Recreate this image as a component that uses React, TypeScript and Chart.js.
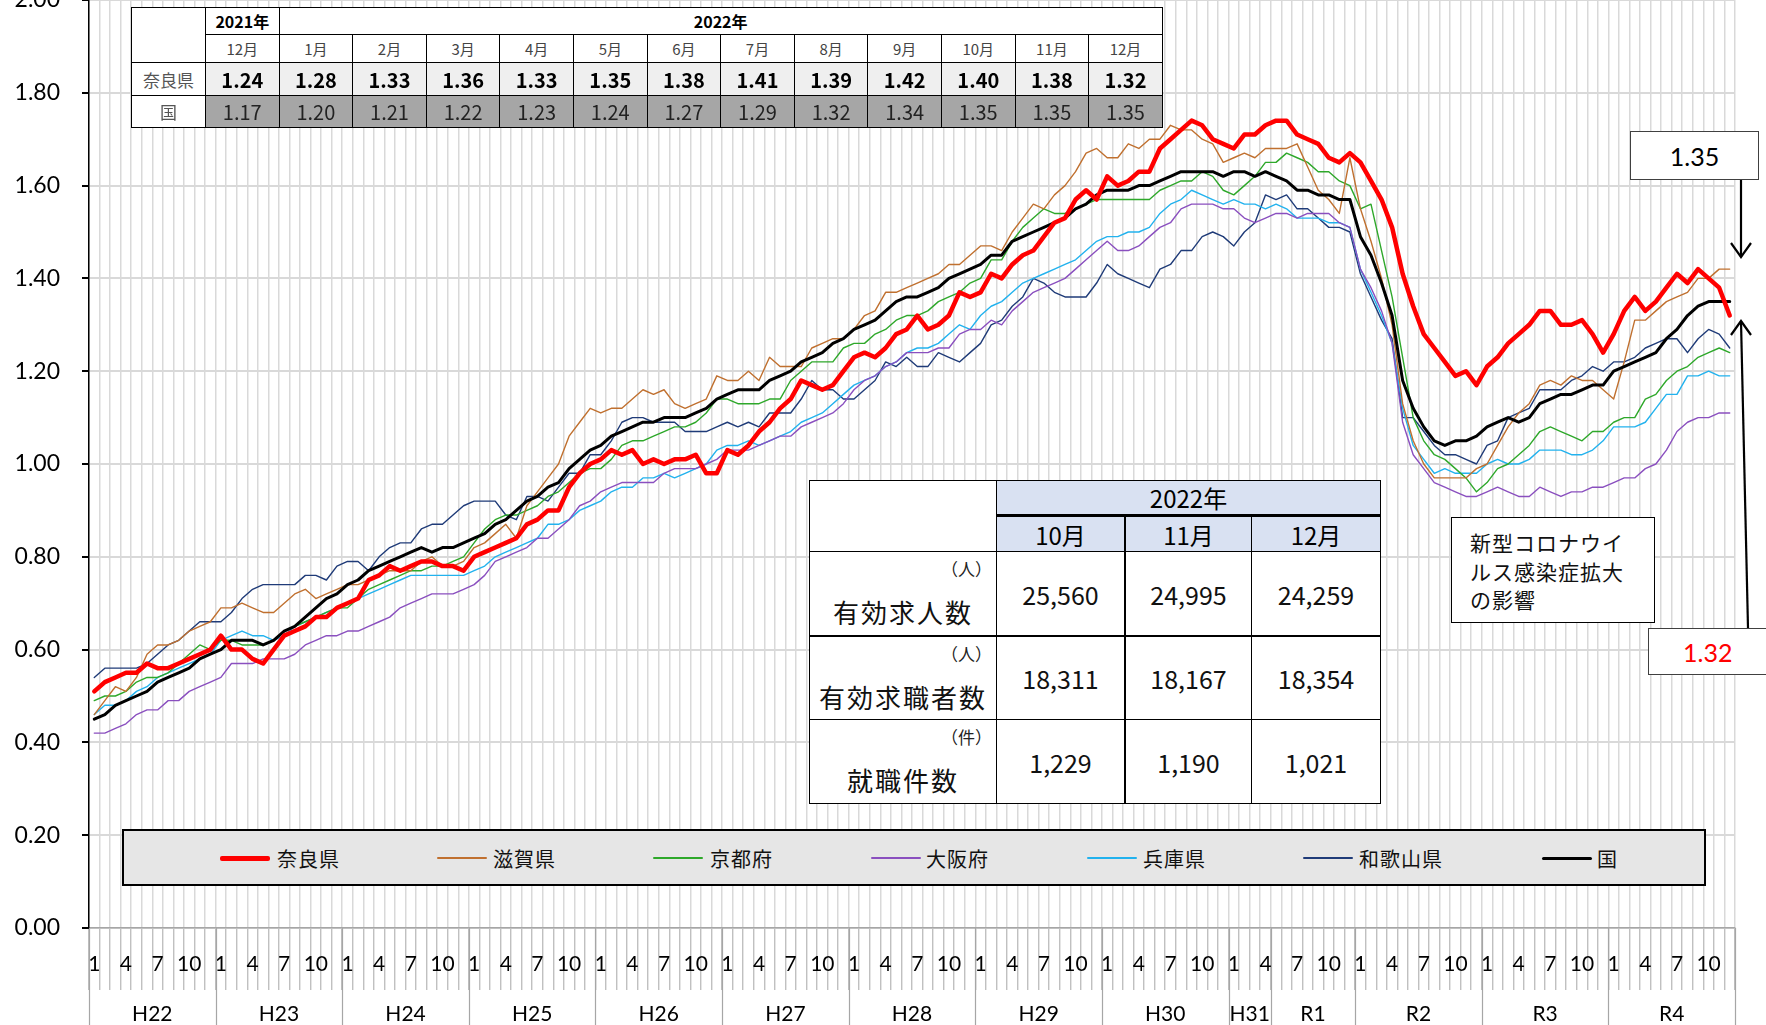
import React, { useEffect, useRef } from 'react';
import { Chart, registerables } from 'chart.js';

Chart.register(...registerables);

// ---- categories ----
const monthNames = ['1', '2', '3', '4', '5', '6', '7', '8', '9', '10', '11', '12'];
const fiscalYears = ['2010', '2011', '2012', '2013', '2014', '2015', '2016', '2017', '2018', '2019', '2020', '2021', '2022'];
const categories: string[] = [];
fiscalYears.forEach(() => monthNames.forEach((m) => categories.push(m)));
const shownMonthTicks = ['1', '4', '7', '10'];

const eraNames = ['H22', 'H23', 'H24', 'H25', 'H26', 'H27', 'H28', 'H29', 'H30', 'H31', 'R1', 'R2', 'R3', 'R4'];
const eraMonths = [12, 12, 12, 12, 12, 12, 12, 12, 12, 4, 8, 12, 12, 12];

const yTicks = [0, 0.2, 0.4, 0.6, 0.8, 1.0, 1.2, 1.4, 1.6, 1.8, 2.0];

// ---- series (有効求人倍率) ----
const nara = [
  0.51, 0.53, 0.54, 0.55, 0.55, 0.57, 0.56, 0.56, 0.57, 0.58, 0.59, 0.60,
  0.63, 0.60, 0.60, 0.58, 0.57, 0.60, 0.63, 0.64, 0.65, 0.67, 0.67, 0.69,
  0.70, 0.71, 0.75, 0.76, 0.78, 0.77, 0.78, 0.79, 0.79, 0.78, 0.78, 0.77,
  0.80, 0.81, 0.82, 0.83, 0.84, 0.87, 0.88, 0.90, 0.90, 0.95, 0.98, 1.00,
  1.01, 1.03, 1.02, 1.03, 1.00, 1.01, 1.00, 1.01, 1.01, 1.02, 0.98, 0.98,
  1.03, 1.02, 1.04, 1.07, 1.09, 1.12, 1.14, 1.18, 1.17, 1.16, 1.17, 1.20,
  1.23, 1.24, 1.23, 1.25, 1.28, 1.29, 1.32, 1.29, 1.30, 1.32, 1.37, 1.36,
  1.37, 1.41, 1.40, 1.43, 1.45, 1.46, 1.49, 1.52, 1.53, 1.57, 1.59, 1.57,
  1.62, 1.60, 1.61, 1.63, 1.63, 1.68, 1.70, 1.72, 1.74, 1.73, 1.70, 1.69,
  1.68, 1.71, 1.71, 1.73, 1.74, 1.74, 1.71, 1.70, 1.69, 1.66, 1.65, 1.67,
  1.65, 1.61, 1.57, 1.51, 1.41, 1.34, 1.28, 1.25, 1.22, 1.19, 1.20, 1.17,
  1.21, 1.23, 1.26, 1.28, 1.30, 1.33, 1.33, 1.30, 1.30, 1.31, 1.28, 1.24,
  1.28, 1.33, 1.36, 1.33, 1.35, 1.38, 1.41, 1.39, 1.42, 1.40, 1.38, 1.32,
];
const shiga = [
  0.46, 0.49, 0.52, 0.51, 0.54, 0.59, 0.61, 0.61, 0.62, 0.64, 0.65, 0.66,
  0.69, 0.69, 0.70, 0.69, 0.68, 0.68, 0.70, 0.72, 0.73, 0.71, 0.72, 0.73,
  0.74, 0.74, 0.75, 0.76, 0.77, 0.77, 0.77, 0.79, 0.80, 0.78, 0.78, 0.79,
  0.82, 0.83, 0.85, 0.87, 0.84, 0.91, 0.94, 0.97, 1.00, 1.06, 1.09, 1.12,
  1.11, 1.12, 1.12, 1.14, 1.16, 1.15, 1.16, 1.13, 1.12, 1.13, 1.14, 1.19,
  1.18, 1.18, 1.20, 1.18, 1.23, 1.21, 1.21, 1.21, 1.25, 1.26, 1.27, 1.27,
  1.29, 1.32, 1.33, 1.37, 1.37, 1.38, 1.39, 1.40, 1.41, 1.43, 1.43, 1.45,
  1.47, 1.47, 1.46, 1.50, 1.53, 1.56, 1.55, 1.58, 1.60, 1.63, 1.67, 1.68,
  1.66, 1.66, 1.69, 1.68, 1.70, 1.70, 1.73, 1.72, 1.72, 1.70, 1.69, 1.65,
  1.66, 1.67, 1.66, 1.68, 1.68, 1.68, 1.69, 1.64, 1.59, 1.57, 1.54, 1.66,
  1.55, 1.48, 1.40, 1.30, 1.13, 1.05, 1.00, 0.97, 0.97, 0.97, 0.97, 0.99,
  1.00, 1.04, 1.08, 1.11, 1.13, 1.17, 1.18, 1.17, 1.19, 1.18, 1.18, 1.16,
  1.14, 1.22, 1.31, 1.31, 1.33, 1.35, 1.36, 1.37, 1.40, 1.40, 1.42, 1.42,
];
const kyoto = [
  0.49, 0.50, 0.50, 0.51, 0.53, 0.54, 0.54, 0.55, 0.57, 0.59, 0.61, 0.60,
  0.62, 0.62, 0.61, 0.61, 0.61, 0.62, 0.64, 0.65, 0.66, 0.67, 0.68, 0.69,
  0.69, 0.71, 0.73, 0.74, 0.75, 0.76, 0.77, 0.77, 0.78, 0.78, 0.79, 0.80,
  0.83, 0.86, 0.88, 0.89, 0.89, 0.90, 0.91, 0.93, 0.94, 0.96, 0.98, 0.99,
  0.99, 1.01, 1.04, 1.05, 1.05, 1.06, 1.07, 1.08, 1.08, 1.09, 1.11, 1.14,
  1.14, 1.13, 1.13, 1.13, 1.14, 1.14, 1.18, 1.20, 1.22, 1.22, 1.22, 1.25,
  1.26, 1.26, 1.28, 1.29, 1.31, 1.32, 1.32, 1.33, 1.35, 1.36, 1.37, 1.39,
  1.40, 1.44, 1.44, 1.48, 1.51, 1.53, 1.55, 1.54, 1.54, 1.55, 1.56, 1.57,
  1.57, 1.57, 1.57, 1.57, 1.57, 1.59, 1.60, 1.61, 1.61, 1.63, 1.62, 1.59,
  1.58, 1.60, 1.62, 1.65, 1.65, 1.67, 1.66, 1.65, 1.63, 1.63, 1.61, 1.60,
  1.55, 1.56, 1.46, 1.36, 1.23, 1.10, 1.05, 1.02, 1.01, 0.99, 0.97, 0.94,
  0.96, 0.99, 1.00, 1.02, 1.04, 1.07, 1.08, 1.07, 1.06, 1.05, 1.07, 1.07,
  1.09, 1.10, 1.10, 1.14, 1.15, 1.18, 1.20, 1.21, 1.23, 1.24, 1.25, 1.24,
];
const osaka = [
  0.42, 0.42, 0.43, 0.44, 0.46, 0.47, 0.47, 0.49, 0.49, 0.51, 0.52, 0.53,
  0.54, 0.57, 0.57, 0.57, 0.58, 0.58, 0.58, 0.59, 0.61, 0.62, 0.63, 0.63,
  0.64, 0.64, 0.65, 0.66, 0.67, 0.69, 0.70, 0.71, 0.72, 0.72, 0.72, 0.73,
  0.74, 0.76, 0.79, 0.80, 0.81, 0.82, 0.84, 0.84, 0.86, 0.88, 0.91, 0.92,
  0.94, 0.95, 0.96, 0.96, 0.96, 0.96, 0.98, 0.99, 0.99, 0.99, 1.00, 1.01,
  1.03, 1.03, 1.03, 1.04, 1.05, 1.06, 1.06, 1.08, 1.09, 1.10, 1.11, 1.13,
  1.16, 1.18, 1.19, 1.21, 1.22, 1.24, 1.24, 1.24, 1.25, 1.25, 1.28, 1.29,
  1.29, 1.31, 1.30, 1.33, 1.35, 1.37, 1.38, 1.39, 1.40, 1.42, 1.44, 1.46,
  1.48, 1.46, 1.46, 1.47, 1.49, 1.51, 1.52, 1.55, 1.56, 1.56, 1.56, 1.55,
  1.55, 1.53, 1.52, 1.53, 1.54, 1.54, 1.53, 1.54, 1.54, 1.54, 1.52, 1.51,
  1.42, 1.38, 1.33, 1.26, 1.09, 1.02, 0.99, 0.96, 0.95, 0.94, 0.93, 0.93,
  0.94, 0.95, 0.94, 0.93, 0.93, 0.95, 0.94, 0.93, 0.94, 0.94, 0.95, 0.95,
  0.96, 0.97, 0.97, 0.99, 1.00, 1.03, 1.07, 1.09, 1.10, 1.10, 1.11, 1.11,
];
const hyogo = [
  0.46, 0.48, 0.48, 0.49, 0.51, 0.52, 0.54, 0.55, 0.56, 0.57, 0.58, 0.59,
  0.62, 0.63, 0.64, 0.63, 0.63, 0.62, 0.63, 0.65, 0.66, 0.67, 0.68, 0.69,
  0.70, 0.71, 0.72, 0.73, 0.74, 0.75, 0.76, 0.76, 0.76, 0.76, 0.76, 0.76,
  0.77, 0.78, 0.80, 0.81, 0.82, 0.83, 0.84, 0.87, 0.87, 0.88, 0.90, 0.91,
  0.92, 0.94, 0.95, 0.95, 0.97, 0.97, 0.98, 0.97, 0.98, 0.99, 1.00, 1.03,
  1.04, 1.04, 1.05, 1.04, 1.05, 1.06, 1.07, 1.09, 1.10, 1.11, 1.13, 1.15,
  1.17, 1.18, 1.19, 1.21, 1.22, 1.24, 1.25, 1.25, 1.26, 1.28, 1.30, 1.29,
  1.32, 1.34, 1.35, 1.37, 1.39, 1.40, 1.41, 1.42, 1.43, 1.44, 1.46, 1.48,
  1.49, 1.49, 1.50, 1.50, 1.51, 1.54, 1.56, 1.57, 1.59, 1.58, 1.57, 1.56,
  1.57, 1.56, 1.56, 1.55, 1.56, 1.55, 1.53, 1.53, 1.53, 1.52, 1.52, 1.51,
  1.42, 1.37, 1.32, 1.26, 1.12, 1.04, 1.01, 0.98, 0.99, 0.98, 0.98, 0.98,
  1.00, 1.01, 1.00, 1.00, 1.01, 1.03, 1.03, 1.03, 1.02, 1.02, 1.03, 1.05,
  1.08, 1.08, 1.08, 1.09, 1.12, 1.15, 1.15, 1.19, 1.19, 1.20, 1.19, 1.19,
];
const wakayama = [
  0.54, 0.56, 0.56, 0.56, 0.56, 0.57, 0.59, 0.61, 0.62, 0.64, 0.66, 0.66,
  0.66, 0.68, 0.71, 0.73, 0.74, 0.74, 0.74, 0.74, 0.76, 0.76, 0.75, 0.78,
  0.79, 0.79, 0.77, 0.80, 0.82, 0.83, 0.83, 0.86, 0.87, 0.87, 0.89, 0.91,
  0.92, 0.92, 0.92, 0.89, 0.88, 0.93, 0.93, 0.92, 0.95, 0.98, 0.98, 1.02,
  1.02, 1.05, 1.09, 1.10, 1.10, 1.09, 1.09, 1.09, 1.07, 1.07, 1.07, 1.08,
  1.09, 1.08, 1.09, 1.08, 1.11, 1.11, 1.11, 1.14, 1.18, 1.16, 1.16, 1.14,
  1.14, 1.16, 1.18, 1.22, 1.21, 1.23, 1.21, 1.21, 1.24, 1.23, 1.22, 1.24,
  1.26, 1.30, 1.31, 1.34, 1.36, 1.40, 1.39, 1.37, 1.36, 1.36, 1.36, 1.39,
  1.43, 1.41, 1.40, 1.39, 1.38, 1.42, 1.43, 1.46, 1.46, 1.49, 1.50, 1.49,
  1.47, 1.50, 1.52, 1.58, 1.57, 1.58, 1.55, 1.55, 1.53, 1.51, 1.51, 1.50,
  1.41, 1.36, 1.31, 1.27, 1.10, 1.10, 1.07, 1.04, 1.02, 1.02, 1.01, 1.00,
  1.04, 1.05, 1.10, 1.11, 1.12, 1.16, 1.16, 1.16, 1.18, 1.19, 1.21, 1.20,
  1.22, 1.22, 1.23, 1.25, 1.26, 1.27, 1.27, 1.24, 1.27, 1.29, 1.28, 1.25,
];
const kuni = [
  0.45, 0.46, 0.48, 0.49, 0.50, 0.51, 0.53, 0.54, 0.55, 0.56, 0.58, 0.59,
  0.60, 0.62, 0.62, 0.62, 0.61, 0.62, 0.64, 0.65, 0.67, 0.69, 0.71, 0.72,
  0.74, 0.75, 0.77, 0.78, 0.79, 0.80, 0.81, 0.82, 0.81, 0.82, 0.82, 0.83,
  0.84, 0.85, 0.87, 0.88, 0.90, 0.92, 0.93, 0.95, 0.96, 0.99, 1.01, 1.03,
  1.04, 1.06, 1.07, 1.08, 1.09, 1.09, 1.10, 1.10, 1.10, 1.11, 1.12, 1.14,
  1.15, 1.16, 1.16, 1.16, 1.18, 1.19, 1.20, 1.22, 1.23, 1.24, 1.26, 1.27,
  1.29, 1.30, 1.31, 1.33, 1.35, 1.36, 1.36, 1.37, 1.38, 1.40, 1.41, 1.42,
  1.43, 1.45, 1.45, 1.48, 1.49, 1.50, 1.51, 1.52, 1.53, 1.55, 1.56, 1.58,
  1.59, 1.59, 1.59, 1.60, 1.60, 1.61, 1.62, 1.63, 1.63, 1.63, 1.63, 1.62,
  1.63, 1.63, 1.62, 1.63, 1.62, 1.61, 1.59, 1.59, 1.58, 1.58, 1.57, 1.57,
  1.49, 1.45, 1.39, 1.32, 1.18, 1.12, 1.08, 1.05, 1.04, 1.05, 1.05, 1.06,
  1.08, 1.09, 1.10, 1.09, 1.10, 1.13, 1.14, 1.15, 1.15, 1.16, 1.17, 1.17,
  1.20, 1.21, 1.22, 1.23, 1.24, 1.27, 1.29, 1.32, 1.34, 1.35, 1.35, 1.35,
];

const seriesNames = ['奈良県', '滋賀県', '京都府', '大阪府', '兵庫県', '和歌山県', '国'];
const seriesColors = ['#ff0000', '#c0702f', '#2ea82a', '#8a4fbf', '#22b2ee', '#1f3b78', '#000000'];
const seriesWidths = [4.5, 1.4, 1.4, 1.4, 1.4, 1.4, 3];
const seriesOrder = [0, 2, 2, 2, 2, 2, 1];
const seriesData = [nara, shiga, kyoto, osaka, hyogo, wakayama, kuni];

// ---- top table ----
const topYearHeaders = ['2021年', '2022年'];
const topMonths = ['12月', '1月', '2月', '3月', '4月', '5月', '6月', '7月', '8月', '9月', '10月', '11月', '12月'];
const naraRecent = nara.slice(-13);
const kuniRecent = kuni.slice(-13);

// ---- middle table ----
const midYear = '2022年';
const midMonths = ['10月', '11月', '12月'];
const midRows = [
  { unit: '（人）', label: '有効求人数', values: ['25,560', '24,995', '24,259'] },
  { unit: '（人）', label: '有効求職者数', values: ['18,311', '18,167', '18,354'] },
  { unit: '（件）', label: '就職件数', values: ['1,229', '1,190', '1,021'] },
];

const callout1 = '1.35';
const callout2 = '1.32';
const covidNote = ['新型コロナウイ', 'ルス感染症拡大', 'の影響'];

const JP = '"Noto Sans CJK JP", "Noto Sans", sans-serif';
const NUM = 'Lato, "Noto Sans", sans-serif';

const eraPlugin = {
  id: 'eraRow',
  afterDraw(chart: any) {
    const ctx = chart.ctx;
    const xs = chart.scales.x;
    const area = chart.chartArea;
    const half = (xs.getPixelForValue(1) - xs.getPixelForValue(0)) / 2;
    const edge = (i: number) => (i < categories.length ? xs.getPixelForValue(i) - half : xs.getPixelForValue(categories.length - 1) + half);
    ctx.save();
    ctx.strokeStyle = '#a6a6a6';
    ctx.lineWidth = 1.2;
    let b = 0;
    const bounds = [0];
    eraMonths.forEach((m) => { b += m; bounds.push(b); });
    bounds.forEach((bi) => {
      const px = Math.round(edge(bi)) + 0.5;
      ctx.beginPath();
      ctx.moveTo(px, area.bottom);
      ctx.lineTo(px, chart.height);
      ctx.stroke();
    });
    ctx.fillStyle = '#000';
    ctx.font = '21px ' + NUM;
    ctx.textAlign = 'center';
    ctx.textBaseline = 'middle';
    eraNames.forEach((name, k) => {
      const cx = (edge(bounds[k]) + edge(bounds[k + 1])) / 2;
      ctx.fillText(name, cx, 1014);
    });
    ctx.restore();
  },
};

function Box(props: { x: number; y: number; w: number; h: number; bg?: string; style?: any; children?: any }) {
  const { x, y, w, h, bg, style, children } = props;
  return (
    <div
      style={{
        position: 'absolute', left: x, top: y, width: w + 1, height: h + 1, boxSizing: 'border-box',
        border: '1px solid #000', background: bg || '#fff', display: 'flex', alignItems: 'center',
        justifyContent: 'center', whiteSpace: 'nowrap', ...style,
      }}
    >
      {children}
    </div>
  );
}

function TopTable() {
  const x0 = 131, x1 = 205, cw = 73.6;
  const rows = [7, 34, 62, 95, 127];
  const cx = (k: number) => x1 + k * cw;
  const cells: any[] = [];
  cells.push(<Box key="blank" x={x0} y={rows[0]} w={x1 - x0} h={rows[2] - rows[0]} />);
  cells.push(
    <Box key="y1" x={cx(0)} y={rows[0]} w={cw} h={rows[1] - rows[0]} style={{ font: `bold 16px ${JP}` }}>{topYearHeaders[0]}</Box>
  );
  cells.push(
    <Box key="y2" x={cx(1)} y={rows[0]} w={cw * 12} h={rows[1] - rows[0]} style={{ font: `bold 16px ${JP}` }}>{topYearHeaders[1]}</Box>
  );
  topMonths.forEach((m, k) => {
    cells.push(
      <Box key={'m' + k} x={cx(k)} y={rows[1]} w={cw} h={rows[2] - rows[1]} style={{ font: `15px ${JP}`, color: '#444' }}>{m}</Box>
    );
  });
  cells.push(
    <Box key="lnara" x={x0} y={rows[2]} w={x1 - x0} h={rows[3] - rows[2]} style={{ font: `17px ${JP}`, color: '#555' }}>{seriesNames[0]}</Box>
  );
  cells.push(
    <Box key="lkuni" x={x0} y={rows[3]} w={x1 - x0} h={rows[4] - rows[3]} style={{ font: `17px ${JP}`, color: '#555' }}>{seriesNames[6]}</Box>
  );
  naraRecent.forEach((v, k) => {
    cells.push(
      <Box key={'n' + k} x={cx(k)} y={rows[2]} w={cw} h={rows[3] - rows[2]} bg="#efefef" style={{ font: `bold 20px ${JP}`, color: '#000' }}>{v.toFixed(2)}</Box>
    );
  });
  kuniRecent.forEach((v, k) => {
    cells.push(
      <Box key={'k' + k} x={cx(k)} y={rows[3]} w={cw} h={rows[4] - rows[3]} bg="#a6a6a6" style={{ font: `20px ${JP}`, color: '#222' }}>{v.toFixed(2)}</Box>
    );
  });
  return <>{cells}</>;
}

function MidTable() {
  const xl = 809, xc = [996, 1124, 1251, 1380];
  const ry = [480, 516, 551, 635, 719, 803];
  const cells: any[] = [];
  cells.push(<Box key="blank" x={xl} y={ry[0]} w={xc[0] - xl} h={ry[2] - ry[0]} style={{ borderWidth: 1.5 }} />);
  cells.push(
    <Box key="yr" x={xc[0]} y={ry[0]} w={xc[3] - xc[0]} h={ry[1] - ry[0]} bg="#d9e1f2" style={{ font: `24px ${JP}`, borderBottom: '3px solid #000' }}>{midYear}</Box>
  );
  midMonths.forEach((m, k) => {
    cells.push(
      <Box key={'mm' + k} x={xc[k]} y={ry[1]} w={xc[k + 1] - xc[k]} h={ry[2] - ry[1]} bg="#d9e1f2" style={{ font: `24px ${JP}`, borderLeft: k === 1 ? '2.5px solid #000' : '1px solid #000' }}>{m}</Box>
    );
  });
  midRows.forEach((r, i) => {
    const top = ry[2 + i], h = ry[3 + i] - ry[2 + i];
    cells.push(
      <Box key={'lab' + i} x={xl} y={top} w={xc[0] - xl} h={h} style={{ display: 'block', borderTop: i === 1 ? '2.5px solid #000' : '1px solid #000' }}>
        <div style={{ position: 'absolute', right: 4, top: 4, font: `17px ${JP}`, color: '#222' }}>{r.unit}</div>
        <div style={{ position: 'absolute', left: 0, right: 0, top: 41, textAlign: 'center', font: `26px ${JP}`, letterSpacing: 2, color: '#111' }}>{r.label}</div>
      </Box>
    );
    r.values.forEach((v, k) => {
      cells.push(
        <Box key={'v' + i + k} x={xc[k]} y={top} w={xc[k + 1] - xc[k]} h={h} style={{ font: `25px ${JP}`, color: '#111', borderTop: i === 1 ? '2.5px solid #000' : '1px solid #000', borderLeft: k === 1 ? '2.5px solid #000' : '1px solid #000' }}>{v}</Box>
      );
    });
  });
  return <>{cells}</>;
}

function Legend() {
  const lineX = [220, 437, 653, 871, 1087, 1303, 1542];
  const textX = [277, 493, 710, 926, 1143, 1359, 1597];
  const legendWidths = [5, 2, 2, 2, 2, 2, 3];
  return (
    <>
      <div style={{ position: 'absolute', left: 122, top: 829, width: 1584, height: 57, boxSizing: 'border-box', border: '2.5px solid #000', background: '#e6e6e6' }} />
      {seriesNames.map((n, i) => (
        <React.Fragment key={n}>
          <div style={{ position: 'absolute', left: lineX[i], top: 858 - legendWidths[i] / 2, width: 50, height: legendWidths[i], background: seriesColors[i], borderRadius: 2 }} />
          <div style={{ position: 'absolute', left: textX[i], top: 844, height: 28, lineHeight: '28px', font: `20px ${JP}`, letterSpacing: 1, color: '#111', whiteSpace: 'nowrap' }}>{n}</div>
        </React.Fragment>
      ))}
    </>
  );
}

function Callouts() {
  return (
    <>
      <div style={{ position: 'absolute', left: 1630, top: 131, width: 129, height: 49, boxSizing: 'border-box', border: '1.5px solid #404040', background: '#fff', display: 'flex', alignItems: 'center', justifyContent: 'center', font: `25px ${NUM}`, color: '#000' }}>{callout1}</div>
      <div style={{ position: 'absolute', left: 1648, top: 628, width: 130, height: 47, boxSizing: 'border-box', border: '1.5px solid #404040', background: '#fff', display: 'flex', alignItems: 'center', justifyContent: 'flex-start', paddingLeft: 34, font: `25px ${NUM}`, color: '#ff0000' }}>{callout2}</div>
      <div style={{ position: 'absolute', left: 1451, top: 517, width: 204, height: 106, boxSizing: 'border-box', border: '1.5px solid #000', background: '#fff', paddingLeft: 18, paddingTop: 10, font: `21px ${JP}`, lineHeight: '28.5px', letterSpacing: 1, color: '#111' }}>
        {covidNote.map((l) => <div key={l}>{l}</div>)}
      </div>
      <svg style={{ position: 'absolute', left: 0, top: 0 }} width={1766} height={1025}>
        <g stroke="#000" strokeWidth={2.2} fill="none">
          <line x1={1741} y1={180} x2={1741} y2={257} />
          <polyline points="1731,243 1741,257 1751,243" />
          <line x1={1748} y1={628} x2={1741} y2={321} />
          <polyline points="1731,335 1741,321 1751,335" />
        </g>
      </svg>
    </>
  );
}

export default function App() {
  const ref = useRef<HTMLCanvasElement>(null);
  useEffect(() => {
    if (!ref.current) return;
    const chart = new Chart(ref.current, {
      type: 'line',
      data: {
        labels: categories,
        datasets: seriesNames.map((name, i) => ({
          label: name,
          data: seriesData[i],
          borderColor: seriesColors[i],
          backgroundColor: seriesColors[i],
          borderWidth: seriesWidths[i],
          pointRadius: 0,
          tension: 0,
          fill: false,
          order: seriesOrder[i],
          borderJoinStyle: 'round' as const,
          borderCapStyle: 'round' as const,
        })),
      },
      options: {
        animation: false,
        responsive: false,
        maintainAspectRatio: false,
        layout: { padding: { left: 0, right: 31, top: 0, bottom: 0 } },
        plugins: { legend: { display: false }, tooltip: { enabled: false } },
        scales: {
          x: {
            type: 'category',
            offset: true,
            grid: { color: '#d9d9d9', lineWidth: 1.5, tickColor: '#b5b5b5', tickLength: 62, tickWidth: 1.2, offset: true },
            border: { color: '#a6a6a6', width: 1.5 },
            ticks: {
              autoSkip: false, maxRotation: 0, minRotation: 0, padding: -38.6, color: '#000',
              font: { family: NUM, size: 21 },
              callback: (_v: any, i: number) => (shownMonthTicks.includes(categories[i]) ? categories[i] : ''),
            },
            afterFit: (s: any) => { s.height = 97; s.paddingLeft = 0; s.paddingRight = 0; },
          },
          y: {
            min: 0, max: 2,
            afterBuildTicks: (s: any) => { s.ticks = yTicks.map((v) => ({ value: v })); },
            ticks: { padding: 22, color: '#000', font: { family: NUM, size: 23 }, callback: (v: any) => Number(v).toFixed(2) },
            grid: { color: '#d9d9d9', lineWidth: 2, tickColor: '#000', tickLength: 7 },
            border: { color: '#000', width: 1.5 },
            afterFit: (s: any) => { s.width = 89; s.paddingTop = 0; s.paddingBottom = 0; },
          },
        },
      } as any,
      plugins: [eraPlugin],
    });
    return () => chart.destroy();
  }, []);
  return (
    <div style={{ position: 'absolute', left: 0, top: 0, width: 1766, height: 1025, overflow: 'hidden', background: '#fff' }}>
      <canvas ref={ref} width={1766} height={1025} style={{ position: 'absolute', left: 0, top: 0, width: 1766, height: 1025 }} />
      <TopTable />
      <MidTable />
      <Legend />
      <Callouts />
    </div>
  );
}
